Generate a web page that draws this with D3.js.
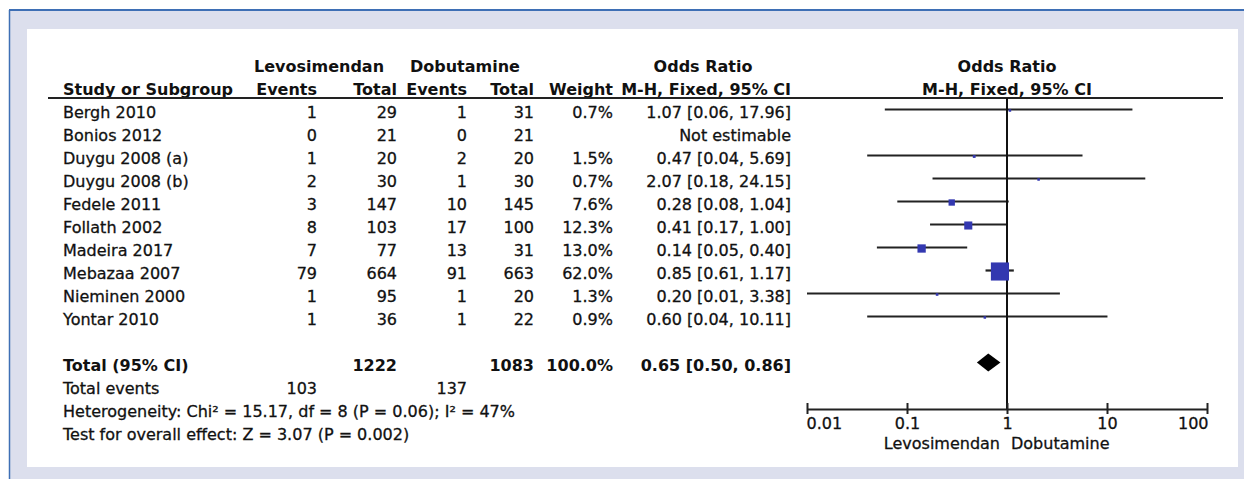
<!DOCTYPE html>
<html>
<head>
<meta charset="utf-8">
<script src="https://cdn.jsdelivr.net/npm/d3@7"></script>
<style>
html,body{margin:0;padding:0;background:#fff;}
svg{display:block;}
text{font-family:"DejaVu Sans",sans-serif;fill:#111;}
text.reg{stroke:#111;stroke-width:0.3px;}
</style>
</head>
<body>
<svg id="chart" width="1244" height="479"></svg>
<script>
// ---------- data ----------
const studies = ["Bergh 2010","Bonios 2012","Duygu 2008 (a)","Duygu 2008 (b)","Fedele 2011","Follath 2002","Madeira 2017","Mebazaa 2007","Nieminen 2000","Yontar 2010"];
const levoEvents = [1,0,1,2,3,8,7,79,1,1];
const levoTotal  = [29,21,20,30,147,103,77,664,95,36];
const dobuEvents = [1,0,2,1,10,17,13,91,1,1];
const dobuTotal  = [31,21,20,30,145,100,31,663,20,22];
const weights    = [0.7,null,1.5,0.7,7.6,12.3,13.0,62.0,1.3,0.9];
const oddsRatio  = [1.07,null,0.47,2.07,0.28,0.41,0.14,0.85,0.20,0.60];
const ciLow      = [0.06,null,0.04,0.18,0.08,0.17,0.05,0.61,0.01,0.04];
const ciHigh     = [17.96,null,5.69,24.15,1.04,1.00,0.40,1.17,3.38,10.11];
const totalLevo = 1222, totalDobu = 1083, totalWeight = 100.0;
const totalOR = 0.65, totalLow = 0.50, totalHigh = 0.86;
const eventsLevo = 103, eventsDobu = 137;
const heterogeneityText = "Heterogeneity: Chi\u00B2 = 15.17, df = 8 (P = 0.06); I\u00B2 = 47%";
const overallText = "Test for overall effect: Z = 3.07 (P = 0.002)";
const tickValues = [0.01,0.1,1,10,100];
const tickLabels = ["0.01","0.1","1","10","100"];
const favoursLeft = "Levosimendan", favoursRight = "Dobutamine";

// ---------- frame ----------
const svg = d3.select("#chart");
svg.append("rect").attr("x",10).attr("y",11).attr("width",1234).attr("height",468).attr("fill","#dcdfed");
svg.append("line").attr("x1",9).attr("x2",1244).attr("y1",10).attr("y2",10).attr("stroke","#3e6fb5").attr("stroke-width",2);
svg.append("line").attr("x1",9.5).attr("x2",9.5).attr("y1",10).attr("y2",479).attr("stroke","#3e6fb5").attr("stroke-width",1.5);
svg.append("rect").attr("x",27).attr("y",29).attr("width",1211).attr("height",438).attr("fill","#fff");

// ---------- scales ----------
const y = d3.scaleLinear().domain([0,1]).range([109.5,132.5]);
const x = d3.scaleLog().domain([0.01,100]).range([807,1207]);
const fmt2 = d3.format(".2f");
const fmt1 = d3.format(".1f");

const col = {name:63, le:317, lt:397, de:467, dt:534, w:613, ci:791};
const FS = 16, FSB = 16;
const base = 8; // baseline offset from row centre

function txt(xp, row, s, anchor, bold){
  svg.append("text").attr("x",xp).attr("y",y(row)+base)
    .attr("class", bold?"b":"reg")
    .attr("text-anchor",anchor||"start")
    .attr("font-size", bold?FSB:FS)
    .attr("font-weight", bold?"bold":"normal")
    .text(s);
}

// headers
txt(254,-2,"Levosimendan","start",true);
txt(410,-2,"Dobutamine","start",true);
txt(703,-2,"Odds Ratio","middle",true);
txt(1007,-2,"Odds Ratio","middle",true);
txt(63,-1,"Study or Subgroup","start",true);
txt(col.le,-1,"Events","end",true);
txt(col.lt,-1,"Total","end",true);
txt(col.de,-1,"Events","end",true);
txt(col.dt,-1,"Total","end",true);
txt(col.w,-1,"Weight","end",true);
txt(col.ci,-1,"M-H, Fixed, 95% CI","end",true);
txt(1007,-1,"M-H, Fixed, 95% CI","middle",true);

svg.append("line").attr("x1",48).attr("x2",1223).attr("y1",98).attr("y2",98).attr("stroke","#222").attr("stroke-width",2);

// study rows
studies.forEach((s,i)=>{
  txt(col.name,i,s);
  txt(col.le,i,levoEvents[i],"end");
  txt(col.lt,i,levoTotal[i],"end");
  txt(col.de,i,dobuEvents[i],"end");
  txt(col.dt,i,dobuTotal[i],"end");
  if(weights[i]!==null){
    txt(col.w,i,fmt1(weights[i])+"%","end");
    txt(col.ci,i,fmt2(oddsRatio[i])+" ["+fmt2(ciLow[i])+", "+fmt2(ciHigh[i])+"]","end");
  } else {
    txt(col.ci,i,"Not estimable","end");
  }
});

// total rows
txt(col.name,11,"Total (95% CI)","start",true);
txt(col.lt,11,totalLevo,"end",true);
txt(col.dt,11,totalDobu,"end",true);
txt(col.w,11,fmt1(totalWeight)+"%","end",true);
txt(col.ci,11,fmt2(totalOR)+" ["+fmt2(totalLow)+", "+fmt2(totalHigh)+"]","end",true);
txt(col.name,12,"Total events");
txt(col.le,12,eventsLevo,"end");
txt(col.de,12,eventsDobu,"end");
txt(col.name,13,heterogeneityText);
txt(col.name,14,overallText);

// ---------- forest plot ----------
const axisY = 409;
const g = svg.append("g");
studies.forEach((s,i)=>{
  if(oddsRatio[i]===null) return;
  g.append("line").attr("x1",x(ciLow[i])).attr("x2",x(ciHigh[i]))
    .attr("y1",y(i)).attr("y2",y(i)).attr("stroke","#222").attr("stroke-width",2.2);
});
g.append("line").attr("x1",x(1)).attr("x2",x(1)).attr("y1",98).attr("y2",axisY)
  .attr("stroke","#111").attr("stroke-width",2);
studies.forEach((s,i)=>{
  if(oddsRatio[i]===null) return;
  const side = Math.max(2.5, 2.3*Math.sqrt(weights[i]));
  g.append("rect").attr("x",x(oddsRatio[i])-side/2).attr("y",y(i)-side/2+1)
    .attr("width",side).attr("height",side).attr("fill","#3338b0");
});
const dy = y(11);
g.append("path").attr("d",
  `M${x(totalLow)},${dy} L${x(totalOR)},${dy-9} L${x(totalHigh)},${dy} L${x(totalOR)},${dy+9} Z`)
  .attr("fill","#000");

const axis = d3.axisBottom(x).tickValues(tickValues).tickFormat((d,i)=>tickLabels[i]).tickSize(0).tickPadding(0);
const ag = svg.append("g").attr("transform",`translate(0,${axisY})`).call(axis);
ag.select(".domain").attr("stroke","#222").attr("stroke-width",2);
ag.selectAll(".tick").append("line").attr("y1",-6).attr("y2",5).attr("stroke","#222").attr("stroke-width",2);
ag.selectAll(".tick text")
  .attr("class","reg")
  .attr("font-family","DejaVu Sans").attr("font-size",FS).attr("fill","#111")
  .attr("dy",null).attr("y",20)
  .attr("text-anchor",(d,i)=> i===0?"start":(i===tickValues.length-1?"end":"middle"))
  .attr("x",(d,i)=> i===0?-1:(i===tickValues.length-1?1:0));
svg.append("text").attr("class","reg").attr("x",x(1)-7).attr("y",449).attr("text-anchor","end").attr("font-size",FS).text(favoursLeft);
svg.append("text").attr("class","reg").attr("x",x(1)+4).attr("y",449).attr("text-anchor","start").attr("font-size",FS).text(favoursRight);
</script>
</body>
</html>
